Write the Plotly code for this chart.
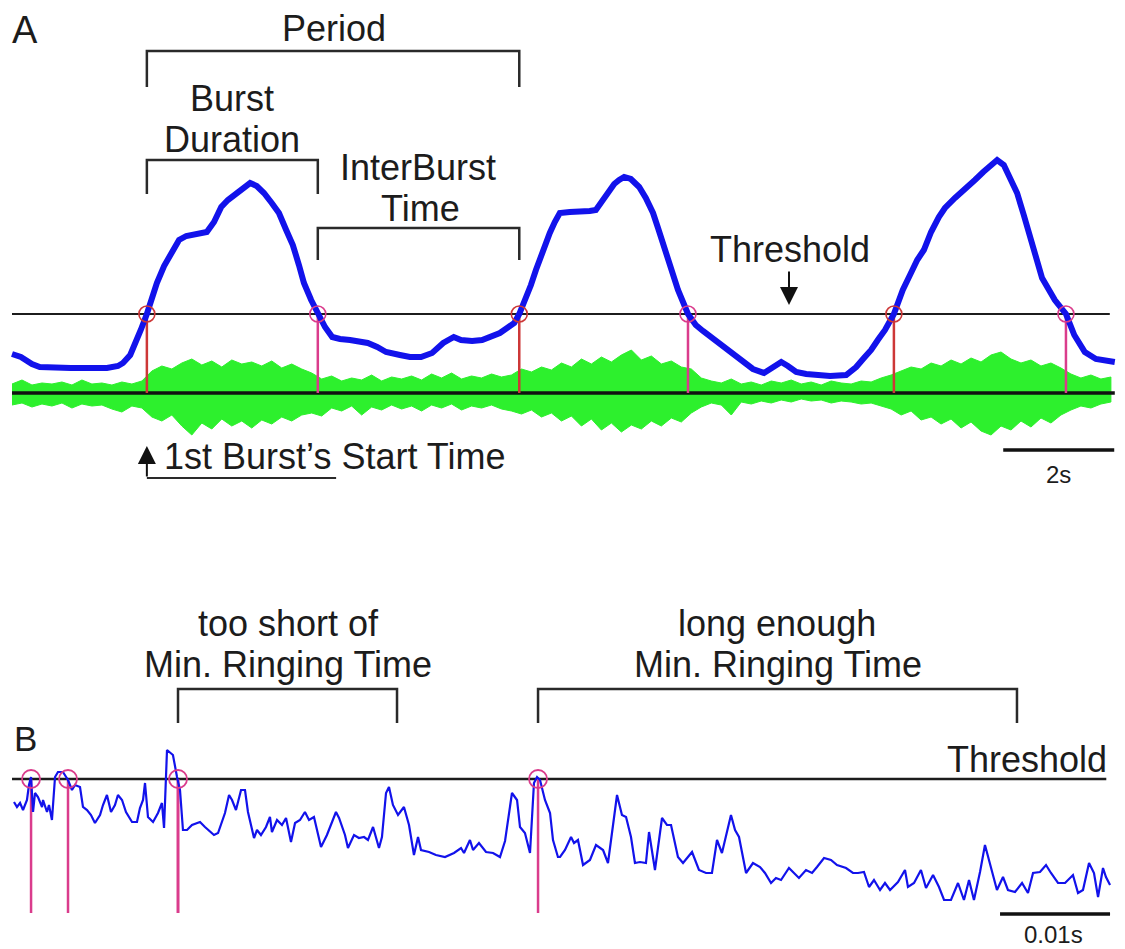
import plotly.graph_objects as go

# page body adds an 8 px margin, so the figure is drawn 8 px smaller and shifted
OFF = 8
W, H = 1125 - OFF, 949 - OFF

# ---------------- Panel A : integrated envelope (s, a.u.) ----------------
a_time = [0.00,0.16,0.36,0.50,1.06,1.71,1.91,2.00,2.13,2.23,2.32,2.43,2.52,2.61,2.74,2.86,3.01,3.14,3.30,3.51,
          3.64,3.77,3.89,4.04,4.18,4.29,4.41,4.54,4.68,4.81,4.94,5.06,5.17,5.26,5.39,5.51,5.64,5.77,5.91,6.09,
          6.27,6.41,6.58,6.74,6.99,7.17,7.37,7.57,7.77,7.89,7.96,8.09,8.29,8.47,8.65,8.79,8.92,9.05,9.14,9.26,
          9.35,9.44,9.53,9.62,9.69,9.78,9.87,10.05,10.23,10.41,10.52,10.65,10.77,10.85,10.94,11.03,11.15,11.30,11.42,11.55,
          11.64,11.75,11.87,12.00,12.18,12.32,12.45,12.67,12.90,13.12,13.35,13.55,13.69,13.86,13.98,14.13,14.31,14.50,14.74,15.03,
          15.21,15.35,15.48,15.60,15.73,15.89,15.98,16.05,16.18,16.31,16.43,16.56,16.70,16.81,16.99,17.17,17.35,17.50,17.60,17.75,
          17.87,17.98,18.11,18.23,18.36,18.56,18.79,18.99,19.14,19.33,19.53,19.71,19.87]
a_env = [39,36,29,26,25,25,27,30,38,50,63,79,95,110,127,140,153,157,159,161,
         171,186,193,200,206,210,207,200,190,180,163,148,128,110,93,79,66,56,54,53,
         52,50,46,41,38,36,36,40,50,54,56,53,52,53,57,60,65,70,79,95,
         108,123,138,151,160,171,180,181,181,182,183,193,203,209,213,216,214,206,195,180,
         165,146,125,103,79,68,62,53,43,33,24,20,25,31,27,21,19,18,17,18,
         26,35,43,53,63,79,93,103,118,133,143,161,176,185,195,205,213,221,226,233,
         228,215,200,178,153,115,93,79,58,41,34,32,31]
a_threshold = 79
a_cross = [2.43, 5.51, 9.14, 12.18, 15.89, 18.99]   # threshold crossings (s)

# raw signal, upper / lower extremes per 0.18 s bin
a_raw_dt = 0.18
a_raw_upper = [9,13,8,10,9,11,8,13,9,10,
               8,11,9,12,22,27,24,30,34,28,
               32,26,33,29,31,27,32,25,29,24,
               20,14,17,12,15,13,18,12,16,14,
               17,13,19,15,20,14,17,15,19,16,
               18,24,21,26,23,30,26,34,29,36,
               31,38,43,33,37,29,32,26,24,15,
               12,10,14,9,11,8,12,10,13,9,
               11,8,12,10,9,12,11,15,18,22,
               26,24,30,27,33,29,35,31,38,41,
               34,30,33,27,30,25,19,15,18,14,
               16]
a_raw_lower = [-12,-10,-14,-11,-13,-10,-15,-11,-13,-12,
               -16,-19,-13,-15,-24,-28,-22,-33,-42,-30,
               -36,-26,-33,-28,-35,-27,-31,-24,-28,-22,
               -20,-23,-15,-18,-13,-22,-14,-17,-12,-16,
               -13,-18,-12,-15,-11,-17,-13,-15,-12,-16,
               -18,-21,-17,-24,-20,-28,-23,-33,-26,-37,
               -30,-39,-32,-36,-28,-33,-25,-29,-20,-14,
               -10,-12,-22,-9,-11,-8,-10,-7,-9,-6,
               -8,-7,-10,-8,-9,-11,-10,-13,-16,-22,
               -18,-27,-24,-31,-26,-35,-29,-38,-42,-33,
               -37,-28,-34,-25,-30,-22,-17,-13,-15,-11,
               -9]

# ---------------- Panel B : ringing signal (ms, a.u.) ----------------
b_time = [0.00,0.27,0.55,0.82,1.18,1.36,1.55,1.73,1.91,2.18,
          2.55,2.64,3.00,3.18,3.45,3.73,4.00,4.45,4.91,5.27,
          5.55,6.00,6.27,6.64,7.00,7.36,7.82,8.09,8.45,8.82,
          9.18,9.45,9.82,10.18,10.73,11.18,11.45,11.73,11.91,12.18,
          12.64,13.09,13.45,13.64,13.91,14.18,14.45,14.82,15.09,15.36,
          15.73,16.18,16.64,16.91,17.36,18.18,18.55,19.18,19.55,19.82,
          20.18,20.64,21.00,21.27,21.82,22.09,22.45,22.91,23.27,23.45,
          23.91,24.36,24.73,25.18,25.55,26.00,26.45,26.82,27.27,27.91,
          28.45,28.91,29.27,29.55,30.09,30.36,30.91,31.36,31.82,32.18,
          32.64,33.18,33.45,33.82,34.09,34.45,34.91,35.45,35.91,36.36,
          36.73,37.00,37.73,38.36,39.18,40.00,40.64,40.91,41.45,41.73,
          42.27,42.91,43.55,44.18,44.64,45.27,45.73,46.00,46.45,46.91,
          47.27,47.55,47.82,48.27,48.73,49.00,49.45,49.64,50.09,50.64,
          50.91,51.27,51.73,52.36,52.91,53.55,54.00,54.82,55.27,55.64,
          56.09,56.45,56.91,57.45,57.73,58.27,58.91,59.36,59.73,60.36,
          60.82,61.64,62.27,62.91,63.45,63.91,64.36,65.18,65.55,65.91,
          66.55,67.18,67.82,68.27,68.82,69.27,69.73,70.45,70.91,71.36,
          72.00,72.55,73.00,73.64,74.27,74.82,75.64,76.27,76.73,77.27,
          77.73,78.18,78.73,79.18,79.64,80.36,81.00,81.27,81.82,82.45,
          82.91,83.55,84.09,84.55,85.18,85.82,86.36,86.82,87.27,87.82,
          88.27,88.73,89.36,89.91,90.36,91.00,91.64,92.18,92.64,93.27,
          93.82,94.27,94.91,95.55,96.27,96.73,97.18,97.73,98.18,98.55,
          99.00,99.27,99.64]
b_sig = [111,106,110,103,113,128,136,101,120,116,
         106,113,101,108,93,136,141,141,133,123,
         128,126,106,103,98,90,98,108,118,101,
         108,118,113,101,91,91,105,113,130,96,
         91,100,110,85,163,160,158,136,123,83,
         83,88,90,91,86,78,80,100,118,113,
         103,123,123,101,75,83,78,86,96,81,
         93,88,95,71,90,93,101,93,96,66,
         78,90,101,95,78,65,78,75,76,73,
         86,65,76,120,126,108,98,106,88,58,
         76,63,61,58,56,60,65,60,73,63,
         70,61,60,56,72,120,113,86,80,60,
         130,136,133,113,100,73,56,56,63,76,
         70,73,48,53,68,63,50,118,98,96,
         76,50,51,50,81,43,95,88,88,56,
         50,61,43,40,40,73,60,98,83,76,
         40,50,46,40,30,35,33,45,40,35,
         43,40,46,55,53,48,45,40,40,41,
         26,33,23,30,23,31,43,26,30,43,
         25,38,26,13,13,30,13,33,13,41,
         68,48,23,36,23,21,30,20,40,41,
         48,40,30,30,38,20,23,50,40,16,
         45,36,28]
b_threshold = 134
b_cross = [1.55, 4.91, 14.91, 47.64]       # threshold crossings (ms)
b_ring_end = [34.82, 91.18]                # end of the min. ringing windows (ms)

assert len(a_time) == len(a_env)
assert len(b_time) == len(b_sig)
assert len(a_raw_upper) == len(a_raw_lower)

# ---------------- styles ----------------
BLUE = "rgb(18,18,235)"
GREEN = "rgb(45,240,45)"
RED = "rgb(205,55,55)"
PINK = "rgb(218,60,140)"
INK = "#1c1c1c"
FONT = "Liberation Sans, Arial, Helvetica, sans-serif"

fig = go.Figure()

# ---- Panel A ----
fig.add_trace(go.Scatter(x=[a_time[0], 19.78], y=[a_threshold, a_threshold], mode="lines",
                         line=dict(color=INK, width=2), xaxis="x", yaxis="y", hoverinfo="skip"))
raw_t = [i * a_raw_dt for i in range(len(a_raw_upper))]
fig.add_trace(go.Scatter(x=raw_t + raw_t[::-1], y=a_raw_upper + a_raw_lower[::-1], mode="lines",
                         fill="toself", fillcolor=GREEN, line=dict(color=GREEN, width=1),
                         xaxis="x", yaxis="y", hoverinfo="skip"))
fig.add_trace(go.Scatter(x=[a_time[0], a_time[-1]], y=[0, 0], mode="lines",
                         line=dict(color="#111", width=3.5), xaxis="x", yaxis="y", hoverinfo="skip"))
for i, tc in enumerate(a_cross):
    col = RED if i % 2 == 0 else PINK
    fig.add_trace(go.Scatter(x=[tc, tc], y=[a_threshold, 0], mode="lines",
                             line=dict(color=col, width=2.5), xaxis="x", yaxis="y", hoverinfo="skip"))
fig.add_trace(go.Scatter(x=a_time, y=a_env, mode="lines", line=dict(color=BLUE, width=6),
                         xaxis="x", yaxis="y", hoverinfo="skip"))
fig.add_trace(go.Scatter(x=a_cross, y=[a_threshold] * len(a_cross), mode="markers",
                         marker=dict(symbol="circle-open", size=16,
                                     color=[RED if i % 2 == 0 else PINK for i in range(len(a_cross))],
                                     line=dict(width=1.6)),
                         xaxis="x", yaxis="y", hoverinfo="skip"))

# ---- Panel B ----
fig.add_trace(go.Scatter(x=[-0.18, 99.3], y=[b_threshold, b_threshold], mode="lines",
                         line=dict(color=INK, width=2.5), xaxis="x2", yaxis="y2", hoverinfo="skip"))
for i, tc in enumerate(b_cross):
    fig.add_trace(go.Scatter(x=[tc, tc], y=[b_threshold, 0], mode="lines",
                             line=dict(color=PINK, width=3 if i == 2 else 2.5),
                             xaxis="x2", yaxis="y2", hoverinfo="skip"))
fig.add_trace(go.Scatter(x=b_time, y=b_sig, mode="lines", line=dict(color=BLUE, width=2.2),
                         xaxis="x2", yaxis="y2", hoverinfo="skip"))
fig.add_trace(go.Scatter(x=b_cross, y=[b_threshold] * len(b_cross), mode="markers",
                         marker=dict(symbol="circle-open", size=18, color=PINK, line=dict(width=1.8)),
                         xaxis="x2", yaxis="y2", hoverinfo="skip"))

# ---------------- brackets, scale bars ----------------
shapes = []


def bracket(x0, x1, ytop, ybot, xr, yr):
    shapes.append(dict(type="path", xref=xr, yref=yr,
                       path=f"M {x0},{ybot} L {x0},{ytop} L {x1},{ytop} L {x1},{ybot}",
                       line=dict(color="#2a2a2a", width=2.5)))


bracket(a_cross[0], a_cross[2], 342, 306, "x", "y")      # Period
bracket(a_cross[0], a_cross[1], 233, 199, "x", "y")      # Burst duration
bracket(a_cross[1], a_cross[2], 165, 133, "x", "y")      # InterBurst time
bracket(b_cross[2], b_ring_end[0], 224, 190, "x2", "y2")
bracket(b_cross[3], b_ring_end[1], 224, 190, "x2", "y2")

# start-time pointer underline
shapes.append(dict(type="line", xref="x", yref="y", x0=a_cross[0], x1=5.84, y0=-85, y1=-85,
                   line=dict(color="#2a2a2a", width=2)))
# scale bars
shapes.append(dict(type="line", xref="x", yref="y", x0=17.86, x1=19.86, y0=-57, y1=-57,
                   line=dict(color="#111", width=3.5)))
shapes.append(dict(type="line", xref="x2", yref="y2", x0=89.64, x1=99.64, y0=-1, y1=-1,
                   line=dict(color="#111", width=3.5)))


# ---------------- text ----------------
def P(px, py):
    return (px - OFF) / W, 1 - (py - OFF) / H


annotations = []


def label(text, px, py, size=36, anchor="center"):
    x, y = P(px, py)
    annotations.append(dict(text=text, x=x, y=y, xref="paper", yref="paper", showarrow=False,
                            xanchor=anchor, yanchor="middle", borderpad=0,
                            font=dict(family=FONT, size=size, color=INK)))


label("A", 25, 30, 38)
label("Period", 334, 29)
label("Burst", 232, 98)
label("Duration", 232, 139)
label("InterBurst", 418, 168)
label("Time", 420, 208)
label("Threshold", 790, 249)
label("1st Burst\u2019s Start Time", 334, 456)
label("2s", 1058, 475, 24)
label("B", 25, 738, 35)
label("too short of", 288, 623)
label("Min. Ringing Time", 288, 664)
label("long enough", 777, 623)
label("Min. Ringing Time", 778, 664)
label("Threshold", 1108, 759, 36, "right")
label("0.01s", 1053, 934, 24)

# arrows
annotations.append(dict(text="", x=14.0, y=88, ax=14.0, ay=123, xref="x", yref="y", axref="x", ayref="y",
                        showarrow=True, arrowhead=2, arrowsize=1.8, arrowwidth=2, arrowcolor="#111"))
annotations.append(dict(text="", x=a_cross[0], y=-53, ax=a_cross[0], ay=-85, xref="x", yref="y",
                        axref="x", ayref="y", showarrow=True, arrowhead=2, arrowsize=1.8,
                        arrowwidth=2, arrowcolor="#111"))

fig.update_layout(
    width=W, height=H, margin=dict(l=0, r=0, t=0, b=0),
    paper_bgcolor="white", plot_bgcolor="white", showlegend=False,
    xaxis=dict(domain=[0, 1], range=[(OFF - 12) / 55.5, (1125 - 12) / 55.5], visible=False, anchor="y"),
    yaxis=dict(domain=[1 - (500 - OFF) / H, 1], range=[393 - 500, 393 - OFF], visible=False, anchor="x"),
    xaxis2=dict(domain=[0, 1], range=[(OFF - 14) / 11, (1125 - 14) / 11], visible=False, anchor="y2"),
    yaxis2=dict(domain=[0, 1 - (560 - OFF) / H], range=[913 - 949, 913 - 560], visible=False, anchor="x2"),
    shapes=shapes, annotations=annotations,
)

fig.write_html("out.html")
